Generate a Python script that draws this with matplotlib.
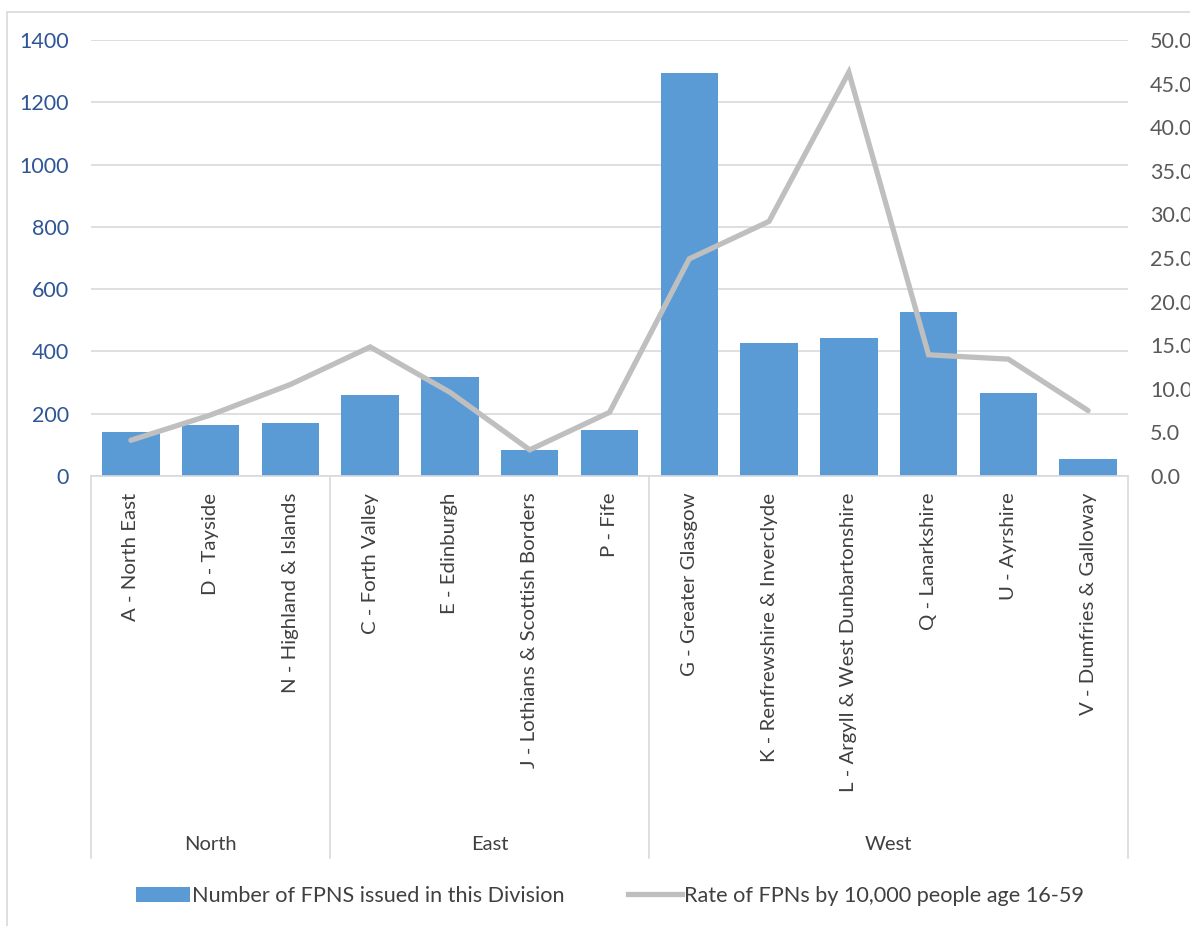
import matplotlib
matplotlib.use("Agg")
import matplotlib.pyplot as plt
import matplotlib.transforms as mtransforms
from matplotlib.patches import Rectangle, Patch
from matplotlib.lines import Line2D
import numpy as np

plt.rcParams['font.family'] = ['Lato', 'DejaVu Sans']

# data
divisions = ['A - North East', 'D - Tayside', 'N - Highland & Islands',
             'C - Forth Valley', 'E - Edinburgh', 'J - Lothians & Scottish Borders', 'P - Fife',
             'G - Greater Glasgow', 'K - Renfrewshire & Inverclyde', 'L - Argyll & West Dunbartonshire',
             'Q - Lanarkshire', 'U - Ayrshire', 'V - Dumfries & Galloway']
regions = ['North', 'East', 'West']
region_sizes = [3, 4, 6]
fpn_counts = [141, 163, 171, 260, 318, 84, 149, 1295, 428, 442, 528, 268, 55]
fpn_rate = [4.1, 7.0, 10.5, 14.8, 9.6, 3.0, 7.3, 24.9, 29.2, 46.3, 13.9, 13.4, 7.5]

W, H = 1190, 926
fig = plt.figure(figsize=(W / 100, H / 100), dpi=100)

# chart border (Excel chart area), only left and top edges fall inside the image
fig.patches.append(Rectangle((7 / W, -0.05), 1.2, (H - 12) / H + 0.05, transform=fig.transFigure,
                             fill=False, edgecolor='#D9D9D9', linewidth=1.2))

left, right, top, bottom = 91, 1128, 40, 476
ax = fig.add_axes([left / W, (H - bottom) / H, (right - left) / W, (bottom - top) / H])
ax2 = ax.twinx()

x = np.arange(len(divisions))
ax.bar(x, fpn_counts, width=0.72, color='#5B9BD5', zorder=2)
ax2.plot(x, fpn_rate, color='#BFBFBF', linewidth=3.8, solid_capstyle='round',
         solid_joinstyle='miter', zorder=3)

ax.set_xlim(-0.5, len(divisions) - 0.5)
ax.set_ylim(0, 1400)
ax.set_yticks(range(0, 1401, 200))
ax2.set_ylim(0, 50)
ax2.set_yticks(np.arange(0, 50.1, 5))
ax2.set_yticklabels([f'{v:.1f}' for v in np.arange(0, 50.1, 5)])

ax.grid(axis='y', color='#D9D9D9', linewidth=1.2, zorder=0)
ax.set_axisbelow(True)
for a in (ax, ax2):
    for s in a.spines.values():
        s.set_visible(False)
ax.spines['bottom'].set_visible(True)
ax.spines['bottom'].set_color('#D9D9D9')
ax.spines['bottom'].set_linewidth(1.2)

ax.tick_params(axis='y', length=0, pad=16, labelsize=15.5, labelcolor='#2F5597')
ax2.tick_params(axis='y', length=0, pad=16, labelsize=15.5, labelcolor='#595959')

ax.set_xticks(x)
ax.set_xticklabels(divisions, rotation=90, va='top', ha='center', fontsize=14.7, color='#404040')
ax.tick_params(axis='x', length=0, pad=12)

# multi-level category axis: separators and region labels
trans = mtransforms.blended_transform_factory(ax.transData, ax.transAxes)
sep_bottom = -(858 - bottom) / (bottom - top)
label_y = -(845 - bottom) / (bottom - top)
edges = np.concatenate([[0], np.cumsum(region_sizes)]) - 0.5
for e in edges:
    ax.plot([e, e], [0, sep_bottom], transform=trans, color='#D9D9D9', linewidth=1.2,
            clip_on=False)
for name, a0, a1 in zip(regions, edges[:-1], edges[1:]):
    ax.text((a0 + a1) / 2, label_y, name, transform=trans, ha='center', va='center',
            fontsize=14.5, color='#404040')

handles = [Patch(facecolor='#5B9BD5', edgecolor='none'),
           Line2D([0], [0], color='#BFBFBF', linewidth=3.8)]
labels = ['Number of FPNS issued in this Division', 'Rate of FPNs by 10,000 people age 16-59']
fig.legend(handles, labels, loc='center', bbox_to_anchor=(610 / W, (H - 896) / H), ncol=2,
           frameon=False, fontsize=15.6, labelcolor='#404040', handlelength=2.5,
           handletextpad=0.1, columnspacing=2.9)

fig.savefig('out.png', dpi=100)
